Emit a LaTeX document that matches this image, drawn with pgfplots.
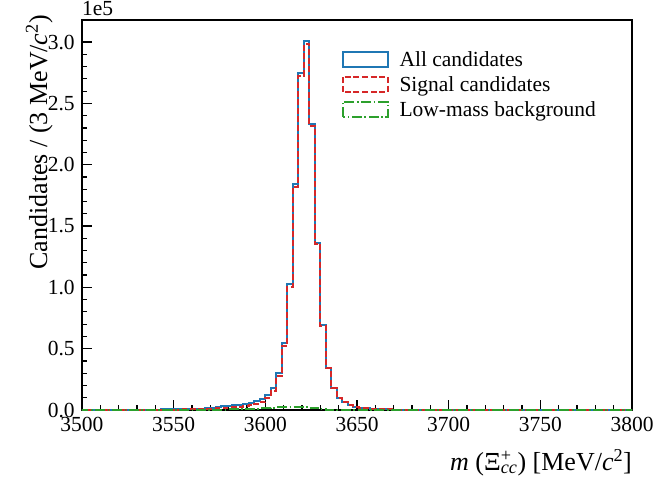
\documentclass[border=0pt]{standalone}
\usepackage{pgfplots}
\pgfplotsset{compat=1.18}
\usepackage{pgfplotstable}
\usepackage{fontspec}
\setmainfont{Liberation Serif}
\definecolor{tabblue}{HTML}{1F77B4}
\definecolor{tabred}{HTML}{D62728}
\definecolor{tabgreen}{HTML}{2CA02C}

\pgfplotstableread{
x all sig bkg
3498 150 90 0
3501 155 95 0
3504 160 100 0
3507 170 105 0
3510 180 110 0
3513 190 115 0
3516 200 120 0
3519 215 130 0
3522 230 140 0
3525 250 150 0
3528 270 165 0
3531 290 180 0
3534 320 195 0
3537 350 215 0
3540 390 240 0
3543 430 265 10
3546 480 295 15
3549 540 330 20
3552 610 370 30
3555 690 420 40
3558 790 480 60
3561 900 550 80
3564 1200 700 120
3567 1600 900 160
3570 2000 1100 220
3573 2500 1400 300
3576 2900 1700 380
3579 3100 1900 450
3582 3700 2200 520
3585 4300 2600 600
3588 5000 3100 800
3591 5900 3800 1000
3594 7200 4800 1200
3597 8600 6200 1400
3600 12500 10000 1600
3603 17800 15500 1900
3606 30000 27800 2100
3609 54500 52300 2300
3612 102500 100300 2400
3615 184500 182200 2500
3618 275000 272500 2600
3621 301000 298500 2500
3624 233500 231500 2000
3627 136500 135200 1300
3630 69500 68800 700
3633 34400 34100 300
3636 18000 17800 100
3639 10000 9900 50
3642 6300 6250 0
3645 4300 4270 0
3648 2700 2680 0
3651 1800 1790 0
3654 1300 1290 0
3657 1000 990 0
3660 800 790 0
3663 600 595 0
3666 500 495 0
3669 400 395 0
3672 300 298 0
3675 250 248 0
3678 200 198 0
3681 180 178 0
3684 170 168 0
3687 160 158 0
3690 150 148 0
3693 145 143 0
3696 140 138 0
3699 135 133 0
3702 130 128 0
3705 125 123 0
3708 120 118 0
3711 115 113 0
3714 110 108 0
3717 105 103 0
3720 100 98 0
3723 98 96 0
3726 95 93 0
3729 92 90 0
3732 90 88 0
3735 88 86 0
3738 85 83 0
3741 82 80 0
3744 80 78 0
3747 78 76 0
3750 75 73 0
3753 72 70 0
3756 70 68 0
3759 68 66 0
3762 66 64 0
3765 64 62 0
3768 62 60 0
3771 60 58 0
3774 58 56 0
3777 56 54 0
3780 55 53 0
3783 54 52 0
3786 53 51 0
3789 52 50 0
3792 51 49 0
3795 50 48 0
3798 50 48 0
3801 50 48 0
}\histdata

\begin{document}
\fontsize{21.5pt}{25pt}\selectfont
\begin{tikzpicture}
\begin{axis}[
  name=ax,
  scale only axis, width=550pt, height=390pt,
  xmin=3500, xmax=3800, ymin=0, ymax=318000,
  xtick={3500,3550,...,3800}, minor x tick num=4,
  ytick={0,50000,100000,150000,200000,250000,300000}, minor y tick num=4,
  scaled x ticks=false,
  scaled y ticks=base 10:-5, ytick scale label code/.code={},
  /pgf/number format/assume math mode=true,
  x tick label style={/pgf/number format/.cd, 1000 sep={}},
  y tick label style={/pgf/number format/.cd, fixed, fixed zerofill, precision=1},
  tick align=inside, xtick pos=bottom, ytick pos=left,
  major tick length=10pt, minor tick length=5pt,
  every tick/.style={black, line width=1.2pt},
  axis line style={line width=1.6pt},
  xlabel={\textit{m} (Ξ\rlap{\textsuperscript{+}}\textsubscript{\itshape cc}) [MeV/\textit{c}\textsuperscript{2}]},
  ylabel={Candidates / (3 MeV/\textit{c}\textsuperscript{2})},
  x label style={at={(axis description cs:1,-0.154)}, anchor=base east, inner sep=0pt, font=\fontsize{26pt}{30pt}\selectfont},
  y label style={at={(axis description cs:-0.0636,1.0128)}, anchor=base east, inner sep=0pt, font=\fontsize{26pt}{30pt}\selectfont},
  legend cell align=left,
  legend style={draw=none, fill=none, at={(axis description cs:0.466,0.93)}, anchor=north west, row sep=3pt,
    /tikz/every odd column/.append style={column sep=9pt}},
  legend image code/.code={\draw[#1, fill=none] (0pt,-6pt) rectangle (45pt,9pt);},
]
\addplot[const plot, color=tabblue, line width=2pt] table[x=x, y=all] {\histdata};
\addlegendentry{All candidates}
\addplot[const plot, color=tabred, line width=2pt, dash pattern=on 6pt off 2.6pt] table[x=x, y=sig] {\histdata};
\addlegendentry{Signal candidates}
\addplot[const plot, color=tabgreen, line width=2pt, dash pattern=on 10pt off 2.6pt on 1.6pt off 2.6pt] table[x=x, y=bkg] {\histdata};
\addlegendentry{Low-mass background}
\end{axis}
\node[anchor=south west, inner sep=0pt] at ([yshift=4pt]ax.north west) {1e5};
\pgfresetboundingbox
\path[use as bounding box] (ax.south west) ++(-82pt,-73pt) rectangle ++(655pt,483pt);
\end{tikzpicture}
\end{document}
